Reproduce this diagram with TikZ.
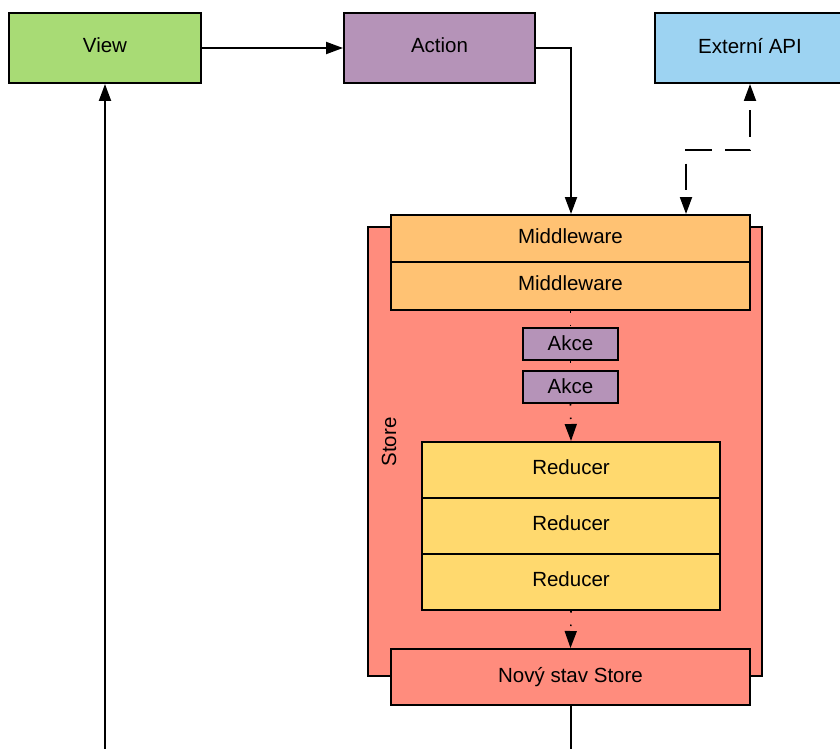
\documentclass[tikz,border=0pt]{standalone}
\usepackage{fontspec}
\setmainfont{Liberation Sans}
\usepackage{xcolor}
\usetikzlibrary{arrows.meta}

\definecolor{viewgreen}{HTML}{A8DB75}
\definecolor{actionpurple}{HTML}{B593B8}
\definecolor{apiblue}{HTML}{9DD3F2}
\definecolor{storered}{HTML}{FF8C7D}
\definecolor{mworange}{HTML}{FFC273}
\definecolor{reduceryellow}{HTML}{FFD96E}

\begin{document}
\begin{tikzpicture}[x=1pt, y=-1pt,
  font=\fontsize{20.5}{24}\selectfont,
  box/.style={draw, line width=2pt, rectangle, inner sep=0pt, text depth=5pt},
  flow/.style={line width=2pt, -{Triangle[width=12pt,length=17pt]}},
  dotflow/.style={line width=1.6pt, dash pattern=on 1.5pt off 12pt},
  apiflow/.style={line width=2pt, dash pattern=on 26pt off 13pt, dash phase=29pt,
    {Triangle[width=12pt,length=17pt]}-{Triangle[width=12pt,length=17pt]}}]
\useasboundingbox (0,0) rectangle (840,749);

% top row
\node[box, fill=viewgreen, minimum width=192, minimum height=70] (view) at (105,48) {View};
\node[box, fill=actionpurple, minimum width=191, minimum height=70] (action) at (439.5,48) {Action};
\node[box, fill=apiblue, minimum width=190, minimum height=70] (api) at (750,48) {Externí API};

% store
\node[box, fill=storered, minimum width=394, minimum height=449] (store) at (565,451.5) {};
\node[rotate=90] (storelabel) at (389,442) {Store};

% middleware
\node[box, fill=mworange, minimum width=359, minimum height=47] (mw1) at (570.5,238.5) {Middleware};
\node[box, fill=mworange, minimum width=359, minimum height=48] (mw2) at (570.5,286) {Middleware};

% akce
\node[box, text depth=1pt, fill=actionpurple, minimum width=95, minimum height=32] (akce1) at (570.5,344) {Akce};
\node[box, text depth=1pt, fill=actionpurple, minimum width=95, minimum height=32] (akce2) at (570.5,387) {Akce};

% reducers
\node[box, fill=reduceryellow, minimum width=298, minimum height=56] (red1) at (571,470) {Reducer};
\node[box, fill=reduceryellow, minimum width=298, minimum height=56] (red2) at (571,526) {Reducer};
\node[box, fill=reduceryellow, minimum width=298, minimum height=56] (red3) at (571,582) {Reducer};

% new state
\node[box, fill=storered, minimum width=359, minimum height=56] (novy) at (570.5,677) {Nový stav Store};

% free ends below the picture
\coordinate (outL) at (105,760);
\coordinate (outR) at (571,760);

% connectors
\draw[flow] (view) -- (action);
\draw[flow] (action.east) -| ([xshift=0.5]mw1.north);
\draw[apiflow] (api.south) -- ++(0,66) -| ([xshift=115.5]mw1.north);
\draw[dotflow] (mw2.south) -- (akce1.north);
\draw[dotflow] (akce1.south) -- (akce2.north);
\draw[dotflow, -{Triangle[width=12pt,length=17pt]}] (akce2.south) -- (red1.north);
\draw[dotflow, -{Triangle[width=12pt,length=17pt]}] (red3.south) -- (novy.north);
\draw[line width=2pt] ([xshift=0.5]novy.south) -- (outR);
\draw[flow] (outL) -- (view.south);
\end{tikzpicture}
\end{document}
